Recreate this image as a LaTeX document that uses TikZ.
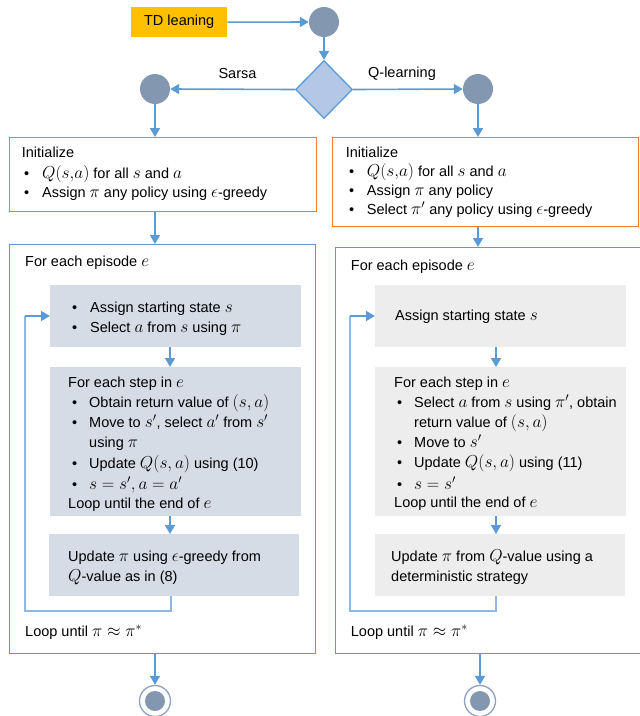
\documentclass[tikz,border=0pt]{standalone}
\usepackage{fontspec}
\setmainfont{Liberation Sans}
% math set a little larger than the surrounding sans text
\DeclareMathSizes{14.5}{16.5}{12}{9}
\usetikzlibrary{shapes.geometric,arrows.meta}
\definecolor{arrowblue}{HTML}{5B9BD5}
\definecolor{looplight}{HTML}{8DB8E2}
\definecolor{frameblue}{HTML}{6A8FD2}
\definecolor{initorange}{HTML}{ED7D31}
\definecolor{dotgray}{HTML}{8497B0}
\definecolor{ringgray}{HTML}{8EA2BF}
\definecolor{diafill}{HTML}{B4C7E7}
\definecolor{tdgold}{HTML}{FFC000}
\definecolor{stepblue}{HTML}{D6DCE5}
\definecolor{steplight}{HTML}{EDEDED}
\begin{document}
\begin{tikzpicture}[x=1pt,y=-1pt,
  txt/.style={anchor=base west, inner sep=0pt, text height=10pt, text depth=3pt, font=\fontsize{14.5}{17}\selectfont, text=black},
  lbl/.style={inner sep=0pt, font=\fontsize{14.5}{17}\selectfont, text=black},
  arr/.style={draw=arrowblue, line width=1.6pt, -{Triangle[length=9pt,width=10pt]}},
  loopline/.style={draw=looplight, line width=1.5pt},
  dot/.style={circle, fill=dotgray, minimum size=30pt, inner sep=0pt},
  endring/.style={circle, draw=ringgray, line width=1.3pt, fill=white, minimum size=31pt, inner sep=0pt},
  initbox/.style={draw=initorange, line width=1.3pt, anchor=north west, inner sep=0pt},
  loopframe/.style={draw=frameblue, line width=1.3pt, anchor=north west, inner sep=0pt},
  stepL/.style={fill=stepblue, anchor=north west, inner sep=0pt},
  stepR/.style={fill=steplight, anchor=north west, inner sep=0pt}]
\useasboundingbox (0,0) rectangle (640,716);

% ---- top: entry and branch ----
\node[fill=tdgold, anchor=north west, minimum width=96pt, minimum height=30pt, inner sep=0pt] (td) at (131,7) {};
\node[lbl] (tdtxt) at (td.center) {TD leaning};
\node[dot] (start) at (324,22) {};
\node[diamond, draw=arrowblue, line width=1.3pt, fill=diafill, minimum width=57pt, minimum height=58pt, inner sep=0pt, aspect=1] (choice) at (324,89.5) {};
\node[dot] (sarsa) at (155,89) {};
\node[dot] (qlearn) at (478,89) {};
\node[lbl] (sarsalbl) at (237.5,74) {Sarsa};
\node[lbl] (qlbl) at (402,74) {Q-learning};

\draw[arr] (td.east) -- (start.west);
\draw[arr] (start.south) -- (choice.north);
\draw[arr] (choice.west) -- (sarsa.east);
\draw[arr] (choice.east) -- (qlearn.west);

% ---- initialisation boxes ----
\node[initbox, minimum width=307pt, minimum height=74pt] (linit) at (9,137) {};
\node[initbox, minimum width=306pt, minimum height=89pt] (rinit) at (332,137) {};
\draw[arr] (sarsa.south) -- (sarsa.south |- linit.north);
\draw[arr] (qlearn.south) -- (qlearn.south |- rinit.north);

\node[txt] (li0) at (21.7,157.5) {Initialize};
\node[txt] (lib1) at (24,178.5) {•};
\node[txt] (li1) at (42,178.5) {$Q(s{,}a)$ for all $s$ and $a$};
\node[txt] (lib2) at (24,197.5) {•};
\node[txt] (li2) at (42,197.5) {Assign $\pi$ any policy using $\epsilon$-greedy};

\node[txt] (ri0) at (345.7,157.5) {Initialize};
\node[txt] (rib1) at (349,176.5) {•};
\node[txt] (ri1) at (366.7,176.5) {$Q(s{,}a)$ for all $s$ and $a$};
\node[txt] (rib2) at (349,195.5) {•};
\node[txt] (ri2) at (366.7,195.5) {Assign $\pi$ any policy};
\node[txt] (rib3) at (349,214.5) {•};
\node[txt] (ri3) at (366.7,214.5) {Select $\pi'$ any policy using $\epsilon$-greedy};

% ---- episode frames ----
\node[loopframe, minimum width=306pt, minimum height=409pt] (lframe) at (9,244) {};
\node[loopframe, minimum width=320pt, minimum height=406pt] (rframe) at (335,247) {};
\draw[arr] (sarsa.south |- linit.south) -- (sarsa.south |- lframe.north);
\draw[arr] (qlearn.south |- rinit.south) -- (qlearn.south |- rframe.north);

\node[txt] (lep) at (25,266.5) {For each episode $e$};
\node[txt] (rep) at (350.7,270.5) {For each episode $e$};
\node[txt] (lend0) at (25,636.5) {Loop until $\pi \approx \pi^{*}$};
\node[txt] (rend0) at (350.7,636.5) {Loop until $\pi \approx \pi^{*}$};

% ---- Sarsa steps ----
\node[stepL, minimum width=251pt, minimum height=62pt] (lg1) at (50,285) {};
\node[stepL, minimum width=251pt, minimum height=149pt] (lg2) at (50,367) {};
\node[stepL, minimum width=250pt, minimum height=62pt] (lg3) at (49,534) {};

\node[txt] (la1b) at (72,312.5) {•};
\node[txt] (la1) at (90,312.5) {Assign starting state $s$};
\node[txt] (la2b) at (72,332.5) {•};
\node[txt] (la2) at (90,332.5) {Select $a$ from $s$ using $\pi$};

\node[txt] (lb0) at (68,387.5) {For each step in $e$};
\node[txt] (lb1b) at (72,407.5) {•};
\node[txt] (lb1) at (89,407.5) {Obtain return value of $(s,a)$};
\node[txt] (lb2b) at (72,427.5) {•};
\node[txt] (lb2) at (89,427.5) {Move to $s'$, select $a'$ from $s'$};
\node[txt] (lb2c) at (89,447.5) {using $\pi$};
\node[txt] (lb3b) at (72,468.5) {•};
\node[txt] (lb3) at (89,468.5) {Update $Q(s,a)$ using (10)};
\node[txt] (lb4b) at (72,489.5) {•};
\node[txt] (lb4) at (89,489.5) {$s=s', a=a'$};
\node[txt] (lb5) at (68,508) {Loop until the end of $e$};

\node[txt] (lc1) at (68,561.5) {Update $\pi$ using $\epsilon$-greedy from};
\node[txt] (lc2) at (68,581.5) {$Q$-value as in (8)};

\coordinate (lvx) at (170,0);
\draw[arr] (lg1.south -| lvx) -- (lg2.north -| lvx);
\draw[arr] (lg2.south -| lvx) -- (lg3.north -| lvx);

\coordinate (lloopA) at (171,611);
\coordinate (lloopB) at (25,611);
\coordinate (lloopC) at (25,316);
\draw[loopline] (lg3.south -| lloopA) -- (lloopA) -- (lloopB) -- (lloopC);
\draw[arr] (lloopC) -- (lg1.west |- lloopC);

% ---- Q-learning steps ----
\node[stepR, minimum width=251pt, minimum height=62pt] (rg1) at (375,285) {};
\node[stepR, minimum width=251pt, minimum height=149pt] (rg2) at (375,367) {};
\node[stepR, minimum width=250pt, minimum height=62pt] (rg3) at (375,534) {};

\node[txt] (ra1) at (395,320.5) {Assign starting state $s$};

\node[txt] (rb0) at (394,387.5) {For each step in $e$};
\node[txt] (rb1b) at (397,407.5) {•};
\node[txt] (rb1) at (414,407.5) {Select $a$ from $s$ using $\pi'$, obtain};
\node[txt] (rb1c) at (414,427.5) {return value of $(s,a)$};
\node[txt] (rb2b) at (397,447.5) {•};
\node[txt] (rb2) at (414,447.5) {Move to $s'$};
\node[txt] (rb3b) at (397,467.5) {•};
\node[txt] (rb3) at (414,467.5) {Update $Q(s,a)$ using (11)};
\node[txt] (rb4b) at (397,489.5) {•};
\node[txt] (rb4) at (414,489.5) {$s=s'$};
\node[txt] (rb5) at (394,507) {Loop until the end of $e$};

\node[txt] (rc1) at (391,561.5) {Update $\pi$ from $Q$-value using a};
\node[txt] (rc2) at (391,581.5) {deterministic strategy};

\coordinate (rvx) at (496,0);
\draw[arr] (rg1.south -| rvx) -- (rg2.north -| rvx);
\draw[arr] (rg2.south -| rvx) -- (rg3.north -| rvx);

\coordinate (rloopA) at (496,611);
\coordinate (rloopB) at (350,611);
\coordinate (rloopC) at (350,316);
\draw[loopline] (rg3.south -| rloopA) -- (rloopA) -- (rloopB) -- (rloopC);
\draw[arr] (rloopC) -- (rg1.west |- rloopC);

% ---- terminal states ----
\node[endring] (lstop) at (155,701) {};
\node[dot, minimum size=20pt] (lstopcore) at (lstop.center) {};
\node[endring] (rstop) at (480,701) {};
\node[dot, minimum size=20pt] (rstopcore) at (rstop.center) {};
\draw[arr] (lframe.south -| lstop) -- (lstop.north);
\draw[arr] (rframe.south -| rstop) -- (rstop.north);
\end{tikzpicture}
\end{document}
